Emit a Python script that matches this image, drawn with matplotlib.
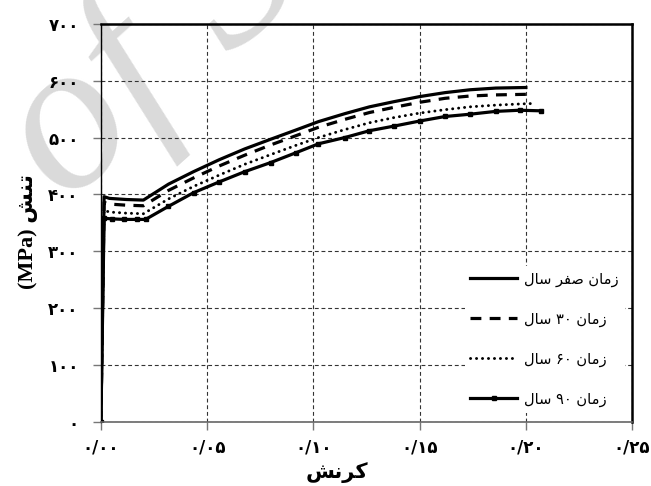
import matplotlib.pyplot as plt

# stress-strain curves (strain, MPa) for the four ages
strain_0 = [0, 0.0015, 0.004, 0.012, 0.020, 0.0318, 0.0436, 0.0557, 0.0677, 0.0799,
            0.0916, 0.1024, 0.1148, 0.1264, 0.1378, 0.150, 0.162, 0.1737, 0.1858, 0.200]
stress_0 = [0, 396, 393, 391, 390, 418, 440, 461, 480, 497,
            513, 528, 542, 554, 563, 572, 579, 584, 587, 588]

strain_30 = [0, 0.0015, 0.004, 0.012, 0.020, 0.0318, 0.0436, 0.0557, 0.0677, 0.0799,
             0.0916, 0.1024, 0.1148, 0.1264, 0.1378, 0.150, 0.162, 0.1737, 0.1858, 0.200]
stress_30 = [0, 386, 383, 381, 380, 407, 429, 450, 469, 487,
             503, 518, 532, 544, 553, 562, 569, 573, 575, 576]

strain_60 = [0, 0.0015, 0.004, 0.012, 0.020, 0.0318, 0.0436, 0.0557, 0.0677, 0.0799,
             0.0916, 0.1024, 0.1148, 0.1264, 0.1378, 0.150, 0.162, 0.1737, 0.1858, 0.197, 0.2045]
stress_60 = [0, 372, 369, 367, 366, 392, 414, 434, 453, 470,
             486, 500, 514, 526, 535, 543, 549, 554, 557, 559, 560]

strain_90 = [0, 0.0015, 0.005, 0.011, 0.017, 0.021, 0.0318, 0.0436, 0.0557, 0.0677, 0.0799,
             0.0916, 0.1024, 0.1148, 0.1264, 0.1378, 0.150, 0.162, 0.1737, 0.1858, 0.197, 0.207]
stress_90 = [0, 358, 357, 356, 356, 356, 379, 403, 422, 440, 456,
             473, 489, 500, 512, 520, 529, 537, 541, 546, 548, 547]

xticks = [0, 0.05, 0.10, 0.15, 0.20, 0.25]
xtick_labels = ["۰/۰۰", "۰/۰۵", "۰/۱۰", "۰/۱۵", "۰/۲۰", "۰/۲۵"]
yticks = [0, 100, 200, 300, 400, 500, 600, 700]
ytick_labels = ["۰", "۱۰۰", "۲۰۰", "۳۰۰", "۴۰۰", "۵۰۰", "۶۰۰", "۷۰۰"]

# Persian text written in visual order with presentation forms (no shaping in matplotlib)
SAL = "\uFEDD\uFE8E\uFEB3"        # سال
ZAMAN = "\uFEE5\uFE8E\uFEE3\uFEAF"  # زمان
SEFR = "\uFEAE\uFED4\uFEBB"        # صفر
labels = [SAL + " " + SEFR + " " + ZAMAN,
          SAL + " ۳۰ " + ZAMAN,
          SAL + " ۶۰ " + ZAMAN,
          SAL + " ۹۰ " + ZAMAN]
xlabel = "\uFEB6\uFEE7\uFEAE\uFB90"  # کرنش
ylabel = "(MPa) " + "\uFEB6\uFEE8\uFE97"  # تنش (MPa)

fig = plt.figure(figsize=(6.51, 4.86), dpi=100)
ax = fig.add_axes([0.155, 0.132, 0.816, 0.819])

# watermark, drawn beneath the axes
fig.text(-0.055, 0.60, "of S", fontsize=155, family="Liberation Serif", style="italic",
         color="#dadada", rotation=42, ha="left", va="baseline", zorder=-1)
ax.set_facecolor("none")

ax.plot(strain_0, stress_0, color="black", lw=2.3, label=labels[0], zorder=4)
ax.plot(strain_30, stress_30, color="black", lw=2.3, linestyle=(0, (3.4, 2.6)),
        label=labels[1], zorder=4)
ax.plot(strain_60, stress_60, color="black", lw=2.1, linestyle=(0, (0.05, 2.0)),
        dash_capstyle="round", label=labels[2], zorder=4)
ax.plot(strain_90, stress_90, color="black", lw=2.3, marker="s", markersize=3.5,
        label=labels[3], zorder=4)

ax.set_xlim(0, 0.25)
ax.set_ylim(0, 700)
ax.set_xticks(xticks)
ax.set_xticklabels(xtick_labels)
ax.set_yticks(yticks)
ax.set_yticklabels(ytick_labels)
for t in ax.get_xticklabels() + ax.get_yticklabels():
    t.set_fontweight("bold")
    t.set_fontsize(12)
    t.set_family(["DejaVu Sans"])
ax.tick_params(axis="both", length=6, color="#777777", width=1)
ax.tick_params(axis="y", pad=10)
ax.tick_params(axis="x", pad=6)

ax.grid(True, color="#333333", lw=0.8, linestyle=(0, (3.5, 2.5)))
ax.set_axisbelow(True)

for side in ["top", "right"]:
    ax.spines[side].set_linewidth(1.8)
    ax.spines[side].set_color("black")
    ax.spines[side].set_zorder(6)
ax.spines["left"].set_linewidth(1.0)
ax.spines["bottom"].set_linewidth(1.2)
ax.spines["bottom"].set_color("#666666")
ax.spines["bottom"].set_zorder(6)

ax.set_xlabel(xlabel, fontsize=15, fontweight="bold", family=["DejaVu Sans"])
ax.set_ylabel(ylabel, fontsize=16, fontweight="bold",
              family=["Liberation Serif", "DejaVu Sans"])
ax.xaxis.set_label_coords(0.444, -0.1)
ax.yaxis.set_label_coords(-0.119, 0.478)

leg = ax.legend(loc="lower right", bbox_to_anchor=(1.0, 0.005), frameon=True,
                fancybox=False, handlelength=3.2, labelspacing=1.7, borderpad=0.4,
                handletextpad=0.5, prop={"family": ["DejaVu Sans"], "size": 10.5})
leg.get_frame().set_facecolor("white")
leg.get_frame().set_edgecolor("none")
leg.get_frame().set_alpha(1)

fig.savefig("out.png", dpi=100)
